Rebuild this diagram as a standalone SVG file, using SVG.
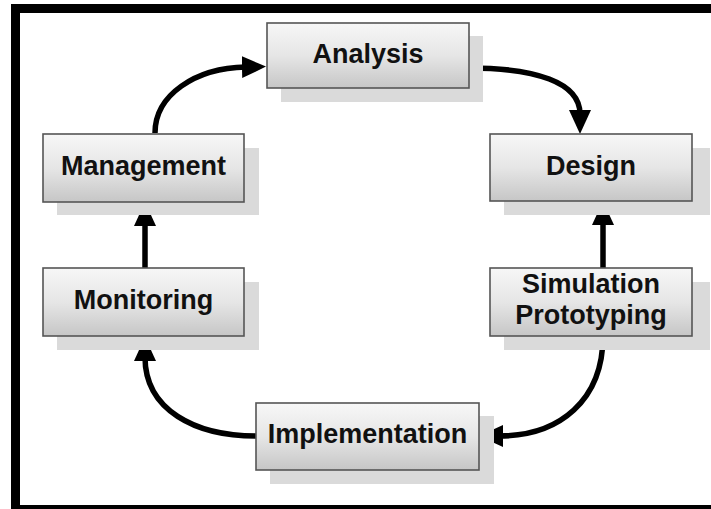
<svg xmlns="http://www.w3.org/2000/svg" width="711" height="509" viewBox="0 0 711 509">
<defs>
<linearGradient id="g" x1="0" y1="0" x2="0" y2="1">
<stop offset="0" stop-color="#f7f7f7"/>
<stop offset="0.5" stop-color="#e6e6e6"/>
<stop offset="1" stop-color="#c6c6c6"/>
</linearGradient>
<marker id="ah" markerUnits="userSpaceOnUse" markerWidth="26" markerHeight="24" refX="4" refY="11" orient="auto">
<path d="M0,0 L24,11 L0,22 z" fill="#000"/>
</marker>
</defs>
<style>
.sh{fill:#dadada}
.bx{fill:url(#g);stroke:#555;stroke-width:1.6}
.t{font-family:"Liberation Sans",Arial,sans-serif;font-weight:bold;font-size:27px;fill:#111;text-anchor:middle}
.c{fill:none;stroke:#000;stroke-width:5.5;marker-end:url(#ah)}
</style>
<rect x="0" y="0" width="711" height="509" fill="#fff"/>
<g id="frame" fill="#000">
<rect x="11" y="4" width="700" height="9"/>
<rect x="11" y="4" width="9" height="505"/>
<rect x="11" y="505" width="700" height="4"/>
</g>
<g id="connectors">
<path class="c" d="M155,133 C155,95 195,68 246,67"/>
<path class="c" d="M469,68 C535,68 580,82 580,114"/>
<path class="c" d="M603,268 L603,221"/>
<path class="c" d="M603,336 C603,400 560,436 499,436"/>
<path class="c" d="M256,436 C195,436 145,410 145,357"/>
<path class="c" d="M145,268 L145,222"/>
</g>
<g id="analysis">
<rect class="sh" x="281" y="36" width="202" height="66"/>
<rect class="bx" x="267" y="23" width="202" height="65"/>
<text class="t" x="368" y="63">Analysis</text>
</g>
<g id="management">
<rect class="sh" x="57" y="148" width="202" height="67"/>
<rect class="bx" x="43" y="134" width="201" height="68"/>
<text class="t" x="143.5" y="175">Management</text>
</g>
<g id="design">
<rect class="sh" x="504" y="148" width="206" height="67"/>
<rect class="bx" x="490" y="134" width="202" height="67"/>
<text class="t" x="591" y="175">Design</text>
</g>
<g id="simulation">
<rect class="sh" x="504" y="282" width="206" height="68"/>
<rect class="bx" x="490" y="268" width="202" height="68"/>
<text class="t" x="591" y="293">Simulation</text>
<text class="t" x="591" y="324">Prototyping</text>
</g>
<g id="implementation">
<rect class="sh" x="270" y="416" width="224" height="68"/>
<rect class="bx" x="256" y="403" width="223" height="67"/>
<text class="t" x="367.5" y="443">Implementation</text>
</g>
<g id="monitoring">
<rect class="sh" x="57" y="282" width="202" height="68"/>
<rect class="bx" x="43" y="268" width="201" height="68"/>
<text class="t" x="143.5" y="309">Monitoring</text>
</g>
</svg>
